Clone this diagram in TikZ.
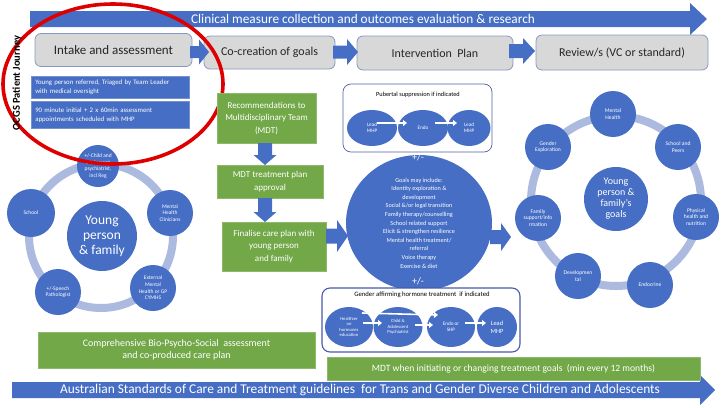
\documentclass[tikz,border=0pt]{standalone}
\usepackage{fontspec}
\setmainfont{Carlito}
\usetikzlibrary{shapes.geometric,arrows.meta}
\definecolor{oblue}{RGB}{70,110,196}
\definecolor{ogreen}{RGB}{114,168,72}
\definecolor{ogray}{RGB}{216,216,216}
\definecolor{ograyb}{RGB}{135,152,192}
\definecolor{oring}{RGB}{172,186,224}
\definecolor{ored}{RGB}{222,0,0}
\definecolor{oboxb}{RGB}{80,100,160}
\newcommand\fs[2]{\fontsize{#1}{#2}\selectfont}
\newcommand\harr[6]{\fill[oblue] (#1,{#3-#4}) -- ({#2-#6},{#3-#4}) -- ({#2-#6},{#3-#5}) -- (#2,#3) -- ({#2-#6},{#3+#5}) -- ({#2-#6},{#3+#4}) -- (#1,{#3+#4}) -- cycle;}
\newcommand\varr[6]{\fill[oblue] ({#3-#4},#1) -- ({#3-#4},{#2-#6}) -- ({#3-#5},{#2-#6}) -- (#3,#2) -- ({#3+#5},{#2-#6}) -- ({#3+#4},{#2-#6}) -- ({#3+#4},#1) -- cycle;}
\begin{document}
\begin{tikzpicture}[x=1pt,y=-1pt,
  stage/.style={draw=ograyb, line width=0.8pt, fill=ogray, rounded corners=6pt, inner sep=0pt, text=black!85},
  tbox/.style={fill=oblue, draw=oblue!75!white, line width=0.6pt, text=white, font=\fs{6.8}{9}, align=left, inner sep=0pt, text width=148pt},
  gbox/.style={fill=ogreen, draw=ogreen!80!white, line width=0.5pt, text=white, align=center, inner sep=0pt},
  bc/.style={circle, fill=oblue, text=white, inner sep=0pt, align=center},
  be/.style={ellipse, fill=oblue, text=white, inner sep=0pt, align=center},
  ring/.style={draw=oring, line width=8pt},
  warr/.style={draw=white, line width=1.6pt, -{Triangle[length=4pt,width=6pt]}},
  sat/.style={font=\fs{5.5}{6.6}},
  rsat/.style={font=\fs{5.6}{6.8}},
  wbox/.style={fill=white, rounded corners=8pt}
]
\useasboundingbox (0,0) rectangle (722,407);

% top arrow
\fill[oblue] (30,11) -- (690,11) -- (690,3) -- (707,19) -- (690,35) -- (690,27) -- (30,27) -- cycle;
\node[text=white, font=\fs{13.3}{15}, inner sep=0pt] (toptext) at (363,19) {Clinical measure collection and outcomes evaluation \& research};

% bottom arrow
\fill[oblue] (12,382) -- (700,382) -- (700,375) -- (715,390) -- (700,405) -- (700,398) -- (12,398) -- cycle;
\node[text=white, font=\fs{13.4}{15}, inner sep=0pt] (bottext) at (360,390) {Australian Standards of Care and Treatment guidelines\ \ for Trans and Gender Diverse Children and Adolescents};

% stages
\node[stage, minimum width=157pt, minimum height=33pt, font=\fs{13}{15}] (intake) at (113.5,50) {Intake and assessment};
\node[stage, minimum width=131pt, minimum height=33pt, font=\fs{12}{14}] (cocreate) at (269.5,52.5) {Co-creation\ of goals};
\node[stage, minimum width=156pt, minimum height=34pt, font=\fs{12}{14}] (interv) at (435,53) {Intervention\ \ Plan};
\node[stage, minimum width=172pt, minimum height=35pt, font=\fs{12}{14}] (review) at (622,52.5) {Review/s (VC or standard)};
\harr{190}{209}{52}{6}{12.5}{10}
\harr{333}{358}{52}{6.5}{13}{11}
\harr{509}{535}{51}{7}{13}{12}

% blue text boxes
\node[tbox, minimum height=22pt, anchor=north west, text width=150pt, inner xsep=4pt] (ref) at (31,76) {Young person referred,\ Triaged by Team Leader\\with medical oversight};
\node[tbox, minimum height=27pt, anchor=north west, text width=150pt, inner xsep=4pt] (appt) at (31,101) {90 minute initial + 2 x 60min assessment\\appointments scheduled with MHP};

% left cycle
\draw[ring] (101,236) circle [radius=72];
\node[bc, minimum size=70pt, font=\fs{13.5}{15}] (ypf) at (102,236) {Young\\person\\\& family};
\node[bc, minimum size=42pt, sat] (lc1) at (98,166) {+/-Child and\\adolescent\\psychiatrist,\\incl Reg};
\node[bc, minimum size=46pt, sat] (lc2) at (170,213) {Mental\\Health\\Clinicians};
\node[bc, minimum size=46pt, sat] (lc3) at (153,288) {External\\Mental\\Health or GP\\CYMHS};
\node[bc, minimum size=46pt, sat] (lc4) at (58,292) {+/-Speech\\Pathologist};
\node[bc, minimum size=48pt, sat] (lc5) at (31,213) {School};

% red ellipse
\draw[ored, line width=3.6pt] (113,84) ellipse [x radius=110, y radius=80];
\node[rotate=90, font=\fs{10.5}{12}\bfseries, inner sep=0pt] (title) at (17,83) {OCGS Patient Journey};

% green column
\node[gbox, minimum width=99pt, minimum height=50pt, font=\fs{9}{12.5}] (rec) at (266.5,118) {Recommendations to\\Multidisciplinary Team\\(MDT)};
\node[gbox, minimum width=106pt, minimum height=33pt, font=\fs{9}{12.5}] (appr) at (270,181.5) {MDT treatment plan\\approval};
\node[gbox, minimum width=104pt, minimum height=49pt, font=\fs{9}{12.5}] (fin) at (274,246.5) {Finalise care plan with\\young person\\and family};
\varr{143}{165}{265}{7}{11.5}{10}
\varr{198}{222}{265}{7}{11.5}{10}
\harr{326}{348}{236}{7.5}{16}{11}

% goals circle
\node[be, minimum width=146pt, minimum height=136pt, font=\fs{6.2}{8.6}] (goals) at (419,223) {Goals may include:\\Identity exploration \&\\development\\Social \&/or legal transition\\Family therapy/counselling\\School related support\\Elicit \& strengthen\ resilience\\Mental health treatment/\\referral\\Voice therapy\\Exercise \& diet};

% pubertal box
\node[wbox, draw=oboxb, line width=0.7pt, minimum width=149pt, minimum height=68pt] (pbox) at (417.5,118) {};
\node[font=\fs{6.3}{7.5}, inner sep=0pt] (ptitle) at (418,95) {Pubertal suppression if indicated};
\node[be, minimum width=50pt, minimum height=36pt, font=\fs{5.2}{6.2}] (p1) at (372,128) {Lead\\MHP};
\node[be, minimum width=50pt, minimum height=36pt, font=\fs{5.2}{6.2}] (p2) at (423,128) {Endo};
\node[be, minimum width=43pt, minimum height=36pt, font=\fs{5.2}{6.2}] (p3) at (469,128) {Lead\\MHP};
\draw[warr] ([xshift=5pt,yshift=5pt]p1.center) -- ([xshift=-16pt,yshift=5pt]p2.center);
\draw[warr] ([xshift=12pt,yshift=5pt]p2.center) -- ([xshift=-12pt,yshift=5pt]p3.center);

\node[text=white, font=\fs{10}{11}, inner sep=0pt] (pm1) at (418,157) {+/-};

% gender box
\node[wbox, draw=oboxb!90!blue, line width=1.1pt, minimum width=198pt, minimum height=64pt] (gbox) at (421,320) {};
\node[font=\fs{6.7}{8}, inner sep=0pt] (gtitle) at (422,295) {Gender affirming hormone treatment\ \ if indicated};
\node[be, minimum width=48pt, minimum height=40pt, font=\fs{4.6}{5.6}] (g1) at (349,327) {Healthier\\on\\hormones\\education};
\node[be, minimum width=49pt, minimum height=40pt, font=\fs{4.6}{5.6}] (g2) at (398,327) {Child \&\\Adolescent\\Psychiatrist};
\node[be, minimum width=48pt, minimum height=40pt, font=\fs{5.2}{6.2}] (g3) at (451,327) {Endo or\\SHP};
\node[be, minimum width=40pt, minimum height=40pt, font=\fs{6.4}{7.6}] (g4) at (497,327) {Lead\\MHP};
\draw[warr] ([xshift=13pt,yshift=14pt]g1.center) -- ([xshift=-13pt,yshift=12pt]g3.center);
\draw[warr] ([xshift=14pt,yshift=4pt]g1.center) -- ([xshift=-16pt,yshift=4pt]g2.center);
\draw[warr] ([xshift=17pt,yshift=2pt]g2.center) -- ([xshift=-18pt,yshift=2pt]g3.center);
\draw[warr] ([xshift=14pt,yshift=4pt]g3.center) -- ([xshift=-11pt,yshift=4pt]g4.center);
\node[text=white, font=\fs{10}{11}, inner sep=0pt] (pm2) at (418,281) {+/-};

% arrow to right cycle
\harr{490}{511}{237}{7}{14}{10}

% right cycle
\draw[ring] (616,201) circle [radius=85];
\node[bc, minimum size=64pt, font=\fs{10}{11}] (ypg) at (616,199) {Young\\person \&\\family’s\\goals};
\node[bc, minimum size=46pt, rsat] (r1) at (613,114) {Mental\\Health};
\node[bc, minimum size=46pt, rsat] (r2) at (678,147) {School and\\Peers};
\node[bc, minimum size=46pt, rsat] (r3) at (696,217) {Physical\\health and\\nutrition};
\node[bc, minimum size=46pt, rsat] (r4) at (650,285) {Endocrine};
\node[bc, minimum size=46pt, rsat] (r5) at (578,276) {Developmen\\tal};
\node[bc, minimum size=46pt, rsat] (r6) at (538,218) {Family\\support/info\\rmation};
\node[bc, minimum size=46pt, rsat] (r7) at (548,147) {Gender\\Exploration};

% bottom green boxes
\node[gbox, minimum width=277pt, minimum height=36pt, font=\fs{10}{12.5}] (bps) at (176.5,350) {Comprehensive Bio-Psycho-Social\ \ assessment\\and co-produced care plan};
\node[gbox, minimum width=373pt, minimum height=23pt, font=\fs{9.6}{11}] (mdt) at (513.5,368.5) {MDT when initiating or changing treatment goals\ \ (min every 12 months)};
\end{tikzpicture}
\end{document}
